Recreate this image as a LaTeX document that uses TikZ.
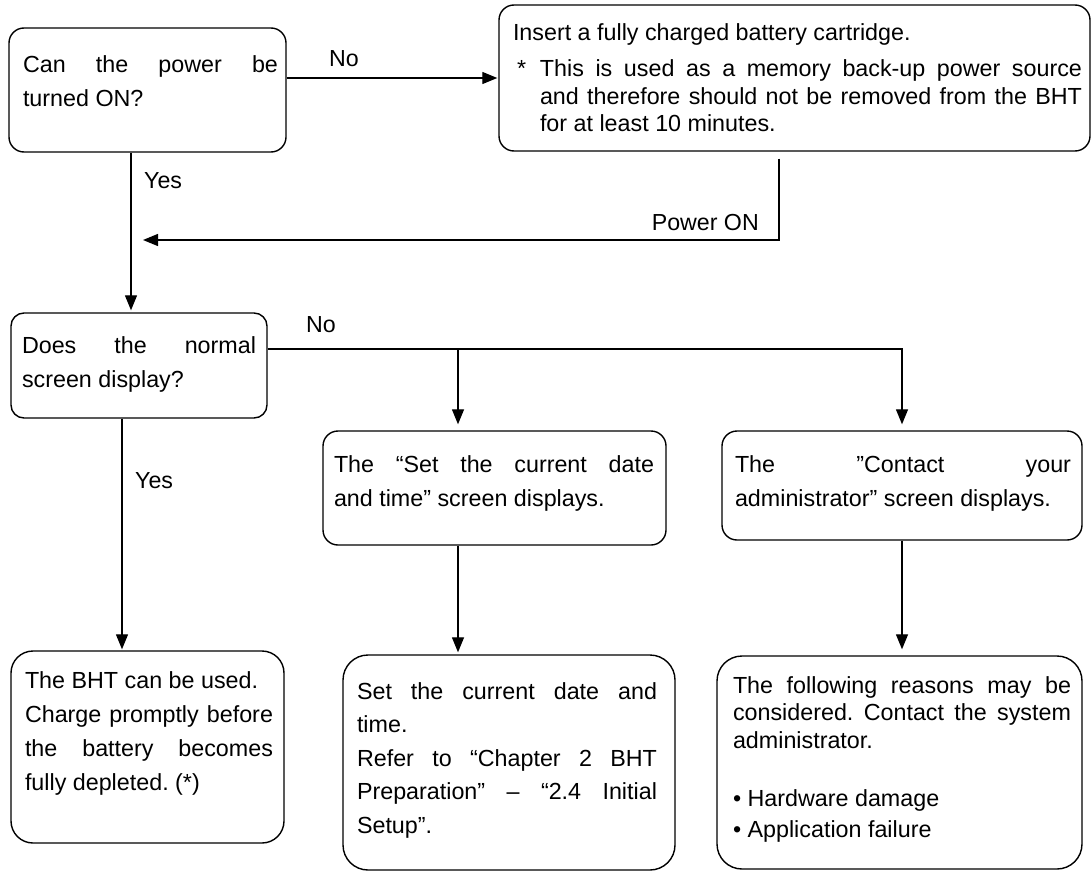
\documentclass[tikz,border=0pt]{standalone}
\usepackage{fontspec}
\setmainfont{Liberation Sans}
\usetikzlibrary{arrows.meta}
% #1 width, #2 height, #3 left margin, #4 right margin, #5 line spacing, #6 first baseline, #7 text
\newcommand{\boxtext}[7]{\parbox[c][#2][t]{#1}{\fontsize{23.3}{#5}\selectfont\frenchspacing
  \tolerance=10000\pretolerance=-1\hbadness=10000\hyphenpenalty=10000\exhyphenpenalty=10000
  \leftskip=#3\relax\rightskip=#4\relax\rule{0pt}{#6}#7}}
\begin{document}
\begin{tikzpicture}[x=1pt,y=-1pt,
  box/.style={draw, line width=1.4pt, rounded corners=#1, inner sep=0pt},
  box/.default=15pt,
  arr/.style={line width=1.3pt, -{Triangle[length=15pt,width=12pt]}},
  lbl/.style={font=\fontsize{23.2}{27}\selectfont, inner sep=0pt}]
\useasboundingbox (0,0) rectangle (1091,872);

% boxes
\node[box] (A) at (147.5,90)
  {\boxtext{277pt}{124pt}{14pt}{8pt}{33pt}{45pt}{Can the power be\linebreak turned ON?}};
\node[box] (B) at (794.5,78)
  {\boxtext{591pt}{146pt}{14pt}{8pt}{27.5pt}{36pt}{Insert a fully charged battery cartridge.\par
   \vspace{8.5pt}\leftskip=41pt\leavevmode\llap{\makebox[23pt][l]{*}}This is used as a memory back-up power source\linebreak and therefore should not be removed from the BHT\linebreak for at least 10 minutes.}};
\node[box=13pt] (C) at (139,365.5)
  {\boxtext{256pt}{105pt}{11pt}{11pt}{34pt}{40pt}{Does the normal\linebreak screen display?}};
\node[box] (D) at (494.5,488)
  {\boxtext{343pt}{114pt}{11pt}{12pt}{34pt}{41pt}{The “Set the current date\linebreak and time” screen displays.}};
\node[box] (E) at (902,485.5)
  {\boxtext{360pt}{109pt}{13pt}{11pt}{34pt}{41pt}{The ”Contact your\linebreak administrator” screen displays.}};
\node[box=22pt] (F) at (147.5,747)
  {\boxtext{273pt}{192pt}{14pt}{11pt}{34pt}{37pt}{The BHT can be used.\\ Charge promptly before\linebreak the battery becomes\linebreak fully depleted. (*)}};
\node[box=25pt] (G) at (509,762.5)
  {\boxtext{332pt}{215pt}{14pt}{18pt}{33.5pt}{44pt}{Set the current date and\linebreak time.\\ Refer to “Chapter 2 BHT\linebreak Preparation” – “2.4 Initial\linebreak Setup”.}};
\node[box=25pt] (H) at (899.5,762.5)
  {\boxtext{365pt}{213pt}{16pt}{11pt}{27.5pt}{37pt}{The following reasons may be\linebreak considered. Contact the system\linebreak administrator.\par
   \vspace{27pt}\baselineskip=31pt\textbullet\ Hardware damage\\ \textbullet\ Application failure}};

% connectors
\draw[arr, shorten >=1pt] (A.east |- B.west) -- (B.west);
\coordinate (a1) at ([xshift=-16.5pt]A.south);
\draw[arr, shorten >=2pt] (a1) -- (a1 |- C.north);
\coordinate (p1) at ([xshift=-15.5pt,yshift=-7pt]B.south);
\coordinate (m1) at (143,240);
\draw[arr] (p1) |- (m1);
\coordinate (c1) at ([yshift=16.5pt]C.east);
\draw[arr, shorten >=6pt] (c1) -| (E.north);
\coordinate (d1) at ([xshift=-36.5pt]D.north);
\draw[arr, shorten >=6pt] (c1 -| d1) -- (d1);
\coordinate (c2) at ([xshift=-17pt]C.south);
\draw[arr, shorten >=1pt] (c2) -- (c2 |- F.north);
\coordinate (d2) at ([xshift=-36.5pt]D.south);
\draw[arr, shorten >=2pt] (d2) -- (d2 |- G.north);
\draw[arr, shorten >=6pt] (E.south) -- (E.south |- H.north);

% labels
\node[lbl, anchor=base west] (no1) at (329,67) {No};
\node[lbl, anchor=base west] (yes1) at (144,188) {Yes};
\node[lbl, anchor=base east] (pon) at (759,230) {Power ON};
\node[lbl, anchor=base west] (no2) at (306,332) {No};
\node[lbl, anchor=base west] (yes2) at (135,488) {Yes};
\end{tikzpicture}
\end{document}
